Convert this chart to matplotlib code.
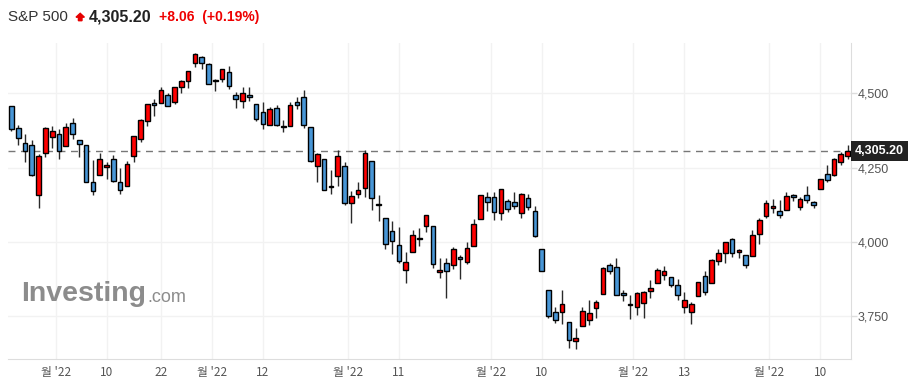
import matplotlib
matplotlib.use("Agg")
import matplotlib.pyplot as plt
import matplotlib.patches as mpatches
import matplotlib.transforms as mtransforms

# S&P 500 daily candles, 17 Feb 2022 .. 16 Aug 2022
opens = [4456.06, 4384.57, 4332.74, 4324.93, 4155.77, 4298.38, 4354.17, 4363.14, 4322.56, 4401.31,
         4342.12, 4327.01, 4202.66, 4223.10, 4252.55, 4279.50, 4202.75, 4188.82, 4288.14, 4345.11,
         4407.34, 4462.40, 4469.10, 4493.10, 4469.98, 4522.91, 4541.09, 4602.86, 4624.20, 4599.02,
         4540.32, 4547.97, 4572.45, 4494.17, 4474.65, 4494.15, 4462.64, 4437.59, 4394.30, 4449.12,
         4385.63, 4390.63, 4472.26, 4489.17, 4385.83, 4255.34, 4278.14, 4186.52, 4222.58, 4253.75,
         4130.61, 4159.78, 4181.18, 4270.43, 4128.17, 4081.27, 4035.18, 3990.08, 3903.95, 3963.90,
         4013.02, 4052.00, 4051.98, 3899.00, 3927.76, 3919.42, 3942.94, 3929.59, 3984.60, 4077.43,
         4151.09, 4149.78, 4095.41, 4137.57, 4134.72, 4096.47, 4147.12, 4101.65, 3974.39, 3838.15,
         3763.52, 3764.05, 3728.18, 3665.90, 3715.31, 3733.89, 3774.71, 3821.75, 3920.76, 3913.00,
         3825.09, 3785.99, 3781.00, 3792.61, 3831.98, 3858.85, 3888.26, 3880.94, 3851.95, 3779.67,
         3763.99, 3818.00, 3883.79, 3860.73, 3935.32, 3959.96, 4007.51, 3965.72, 3953.22, 3951.43,
         4026.13, 4087.33, 4112.38, 4104.21, 4107.96, 4154.85, 4115.87, 4155.93, 4133.11, 4176.99,
         4227.40, 4225.02, 4269.37, 4290.46]
highs = [4456.06, 4394.60, 4362.12, 4341.51, 4294.73, 4385.34, 4388.84, 4378.45, 4401.48, 4416.78,
         4342.12, 4327.01, 4276.94, 4299.40, 4268.28, 4291.01, 4247.57, 4271.05, 4357.86, 4412.67,
         4465.40, 4481.75, 4522.00, 4501.07, 4520.58, 4546.03, 4575.65, 4637.30, 4627.77, 4603.07,
         4548.70, 4583.50, 4593.45, 4503.94, 4521.16, 4520.41, 4464.35, 4471.00, 4453.92, 4460.46,
         4410.31, 4471.03, 4488.29, 4512.94, 4385.83, 4299.02, 4278.14, 4240.71, 4308.45, 4269.68,
         4169.81, 4200.10, 4307.66, 4270.43, 4157.69, 4081.27, 4068.82, 4049.09, 3964.80, 4038.88,
         4046.46, 4090.72, 4051.98, 3945.96, 3943.42, 3981.88, 3955.68, 3999.33, 4075.14, 4158.49,
         4168.34, 4166.54, 4177.51, 4142.67, 4168.78, 4164.86, 4160.14, 4119.10, 3974.39, 3838.15,
         3778.18, 3837.56, 3728.18, 3707.71, 3779.65, 3801.79, 3802.58, 3913.65, 3927.72, 3945.86,
         3836.50, 3818.99, 3829.82, 3832.19, 3870.91, 3910.63, 3918.50, 3880.94, 3873.41, 3829.44,
         3796.41, 3863.62, 3902.44, 3939.81, 3974.13, 3999.29, 4012.44, 3975.30, 3953.22, 4039.56,
         4078.95, 4140.15, 4144.95, 4140.47, 4167.66, 4161.29, 4151.58, 4186.62, 4137.30, 4211.03,
         4257.91, 4280.47, 4301.79, 4325.28]
lows = [4373.81, 4327.22, 4267.11, 4221.51, 4114.65, 4286.83, 4315.12, 4279.54, 4322.56, 4345.56,
        4284.98, 4199.85, 4157.87, 4223.10, 4209.80, 4200.49, 4161.72, 4187.90, 4267.92, 4335.65,
        4390.57, 4424.30, 4469.10, 4455.81, 4465.17, 4501.07, 4517.69, 4589.66, 4581.32, 4530.41,
        4507.57, 4539.21, 4514.17, 4450.04, 4450.30, 4474.60, 4408.38, 4381.34, 4392.70, 4390.77,
        4370.30, 4390.63, 4448.76, 4384.47, 4267.62, 4200.82, 4175.04, 4162.04, 4188.63, 4124.28,
        4062.51, 4147.08, 4148.91, 4106.01, 4067.91, 3975.48, 3958.17, 3928.82, 3858.87, 3963.90,
        3983.99, 4033.93, 3911.91, 3876.58, 3810.32, 3909.04, 3875.13, 3925.03, 3984.60, 4077.43,
        4104.88, 4073.85, 4074.37, 4098.67, 4109.18, 4080.19, 4107.20, 4017.17, 3900.16, 3743.52,
        3724.55, 3722.30, 3639.77, 3636.87, 3715.31, 3717.69, 3743.52, 3821.75, 3889.66, 3820.14,
        3799.02, 3738.67, 3752.10, 3742.06, 3809.37, 3858.85, 3869.34, 3847.22, 3802.36, 3759.07,
        3721.56, 3817.18, 3818.63, 3860.73, 3922.03, 3927.64, 3947.68, 3943.46, 3910.74, 3951.43,
        3992.97, 4079.22, 4096.02, 4079.81, 4107.96, 4135.42, 4107.31, 4128.97, 4112.09, 4176.99,
        4201.41, 4219.78, 4256.90, 4277.77]
closes = [4380.26, 4348.87, 4304.76, 4225.50, 4288.70, 4384.65, 4373.94, 4306.26, 4386.54, 4363.49,
          4328.87, 4201.09, 4170.70, 4277.88, 4259.52, 4204.31, 4173.11, 4262.45, 4357.86, 4411.67,
          4463.12, 4461.18, 4511.61, 4456.24, 4520.16, 4543.06, 4575.52, 4631.60, 4602.45, 4530.41,
          4545.86, 4582.64, 4525.12, 4481.15, 4500.21, 4488.28, 4412.53, 4397.45, 4446.59, 4392.59,
          4391.69, 4462.21, 4459.45, 4393.66, 4271.78, 4296.12, 4175.20, 4183.96, 4287.50, 4131.93,
          4155.38, 4175.48, 4300.17, 4146.87, 4123.34, 3991.24, 4001.05, 3935.18, 3930.08, 4023.89,
          4008.01, 4088.85, 3923.68, 3900.79, 3901.36, 3973.75, 3941.48, 3978.73, 4057.84, 4158.24,
          4132.15, 4101.23, 4176.82, 4108.54, 4121.43, 4160.68, 4115.77, 4017.82, 3900.86, 3749.63,
          3735.48, 3789.99, 3666.77, 3674.84, 3764.79, 3759.89, 3795.73, 3911.74, 3900.11, 3821.55,
          3818.83, 3785.38, 3825.33, 3831.39, 3845.08, 3902.62, 3899.38, 3854.43, 3818.80, 3801.78,
          3790.38, 3863.16, 3830.85, 3936.69, 3959.90, 3998.95, 3961.63, 3966.84, 3921.05, 4023.61,
          4072.43, 4130.29, 4118.63, 4091.19, 4155.17, 4151.94, 4145.19, 4140.06, 4122.47, 4210.24,
          4207.27, 4280.15, 4297.14, 4305.20]

x_tick_pos = [6.5, 14, 22, 29.5, 37, 49.5, 57, 70.5, 78, 91.5, 99, 111.5, 119]
x_tick_labels = ["월 '22", "10", "22", "월 '22", "12", "월 '22", "11",
                 "월 '22", "10", "월 '22", "13", "월 '22", "10"]
y_ticks = [3750, 4000, 4250, 4500]
last_price = 4305.20

UP = "#ff0000"
DOWN = "#4896d6"

fig = plt.figure(figsize=(9.12, 3.85), dpi=100)
ax = fig.add_axes([8 / 912, 26 / 385, 843 / 912, 316 / 385])

for i in range(len(closes)):
    o, h, l, c = opens[i], highs[i], lows[i], closes[i]
    col = UP if c >= o else DOWN
    ax.vlines(i, l, h, color="#2a2a2a", linewidth=1, zorder=2)
    body = max(abs(c - o), 5)
    ax.bar(i, body, bottom=min(o, c), width=0.68, color=col,
           edgecolor="black", linewidth=1, zorder=3)

ax.axhline(last_price, color="#777777", linewidth=1, linestyle=(0, (5, 4)), zorder=1)

ax.set_xlim(-0.5, len(closes) - 0.5)
ax.set_ylim(3604, 4670)

ax.set_xticks(x_tick_pos)
ax.set_xticklabels(x_tick_labels, family=["Noto Sans CJK KR", "DejaVu Sans"],
                   fontsize=8.5, color="#555555")
ax.set_yticks(y_ticks)
ax.set_yticklabels([f"{v:,}" for v in y_ticks], family="Liberation Sans",
                   fontsize=9, color="#555555")
ax.yaxis.tick_right()
ax.tick_params(axis="x", length=0, pad=5)
ax.tick_params(axis="y", length=4, width=1, color="#dddddd", pad=1)

ax.grid(True, color="#f2f2f2", linewidth=1, zorder=0)
ax.set_axisbelow(True)
for side in ["top", "left"]:
    ax.spines[side].set_visible(False)
for side in ["bottom", "right"]:
    ax.spines[side].set_color("#dddddd")

# last price box on the right axis
trans = mtransforms.blended_transform_factory(ax.transAxes, ax.transData)
ax.text(1.005, last_price, "4,305.20", transform=trans, ha="left", va="center",
        fontsize=9, fontweight="bold", color="white", family="Liberation Sans",
        bbox=dict(boxstyle="square,pad=0.3", fc="#222222", ec="none"), zorder=5)

# header
fig.text(8 / 912, 1 - 17 / 385, "S&P 500", fontsize=11, color="#333333",
         family="Liberation Sans", va="center")
arrow = mpatches.Polygon(
    [(76, 372 - 4.2), (80.2, 385 - 13.3), (84.4, 372 - 4.2), (82, 372 - 4.2),
     (82, 385 - 20.7), (78.4, 385 - 20.7), (78.4, 372 - 4.2)],
    closed=True, color="#e60000", transform=None)
fig.patches.append(arrow)
fig.text(89 / 912, 1 - 17 / 385, "4,305.20", fontsize=11.5, fontweight="bold",
         color="#222222", family="Liberation Sans", va="center")
fig.text(159 / 912, 1 - 17 / 385, "+8.06  (+0.19%)", fontsize=10, fontweight="bold",
         color="#ee0000", family="Liberation Sans", va="center")

# watermark
fig.text(21 / 912, 1 - 294 / 385, "Investing", fontsize=20.5, fontweight="bold",
         color="#8c8c8c", family="Liberation Sans", va="center")
fig.text(147 / 912, 1 - 297 / 385, ".com", fontsize=13, color="#8c8c8c",
         family="Liberation Sans", va="center")

fig.savefig("out.png", dpi=100)
